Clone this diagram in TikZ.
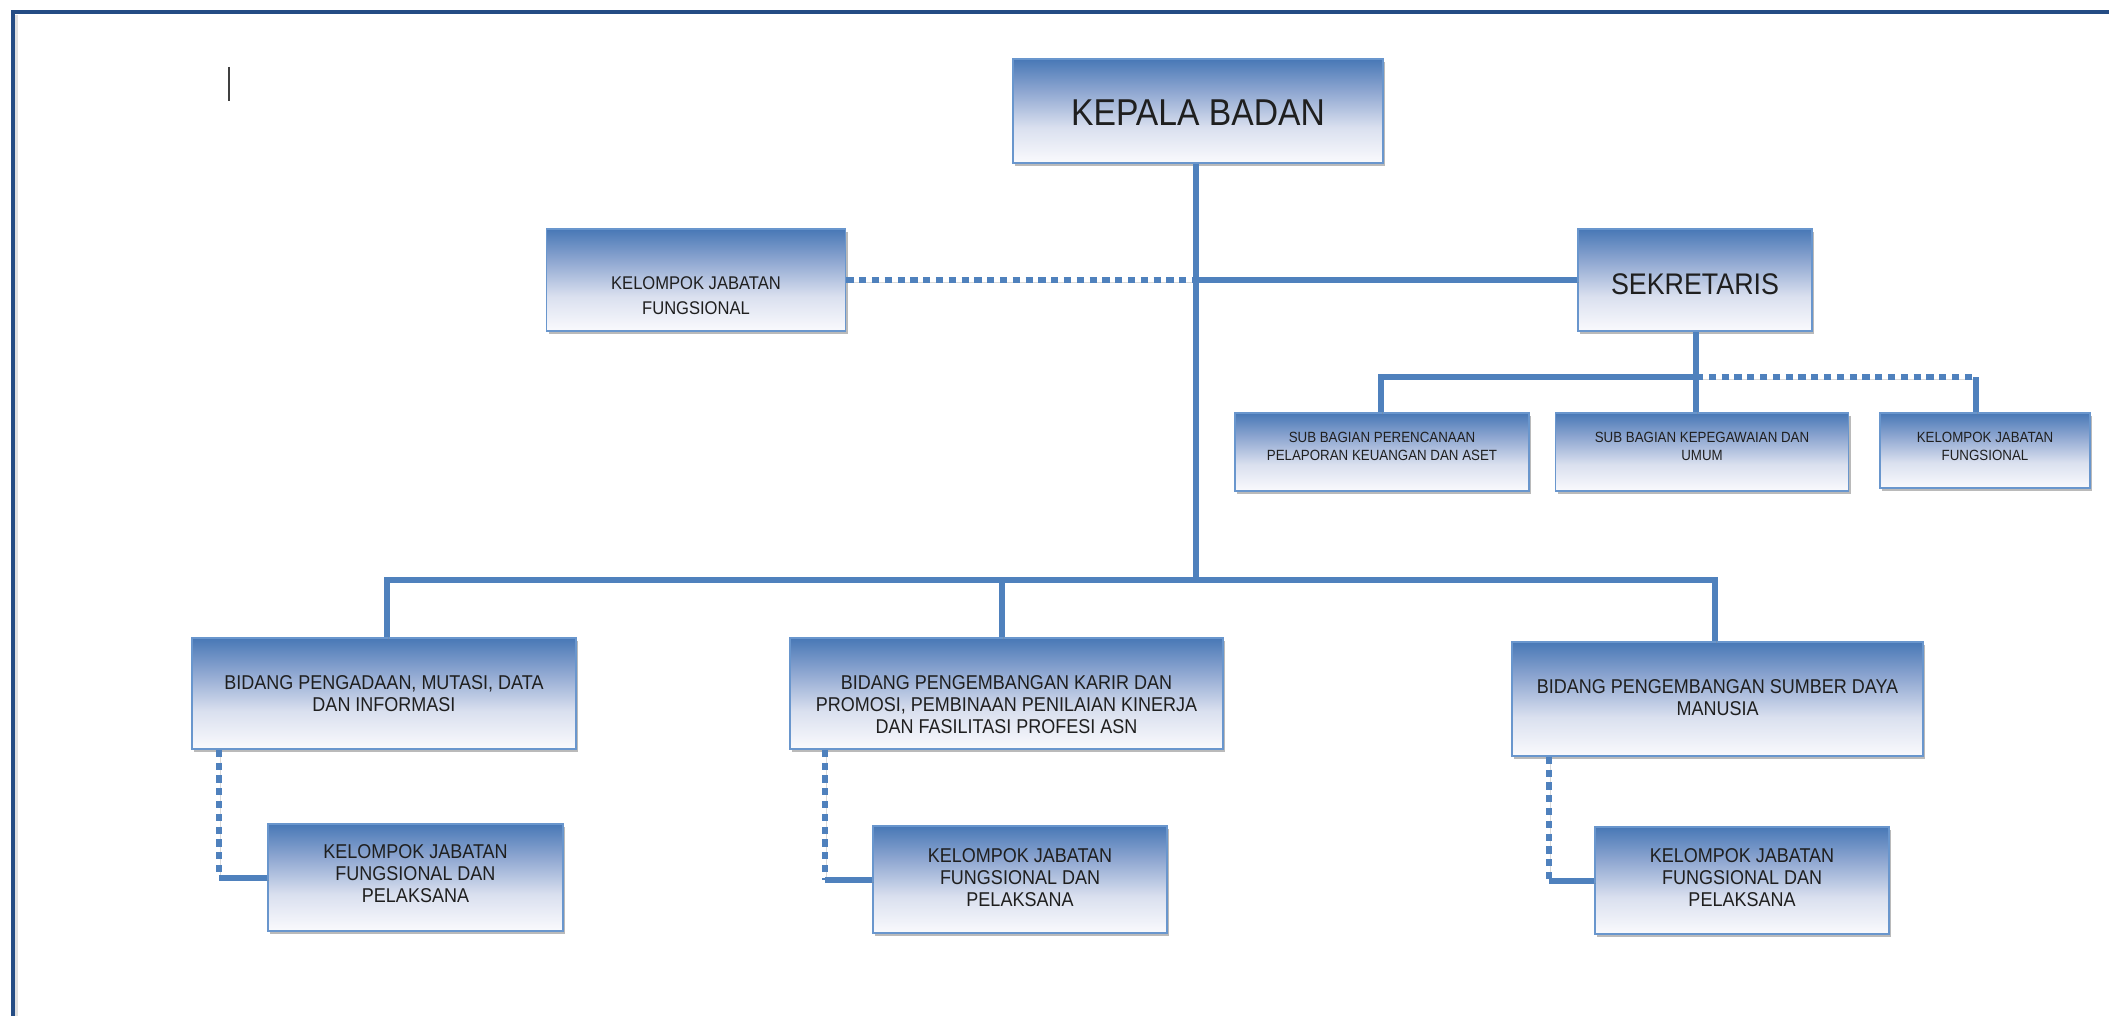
\documentclass[tikz,border=0pt]{standalone}
\usepackage{fontspec}
\newfontfamily\orgfont{Liberation Sans}[FakeStretch=0.9]
\usetikzlibrary{shadows}

\definecolor{frameblue}{RGB}{36,76,132}
\definecolor{linkblue}{RGB}{79,129,189}
\definecolor{boxedge}{RGB}{105,150,205}
\definecolor{gradtop}{RGB}{72,120,182}
\definecolor{gradup}{RGB}{140,165,208}
\definecolor{gradlow}{RGB}{218,224,239}
\definecolor{gradbot}{RGB}{250,250,253}

% blue-to-white fill of the boxes (path spans 25bp..75bp)
\pgfdeclareverticalshading{orgfill}{100bp}{color(0bp)=(gradbot); color(25bp)=(gradbot);
  color(42bp)=(gradlow); color(60bp)=(gradup); color(75bp)=(gradtop); color(100bp)=(gradtop)}

\tikzset{
  orgbox/.style={draw=boxedge, line width=0.8pt, shading=orgfill, inner sep=0pt,
    drop shadow={shadow xshift=1.2pt, shadow yshift=-1.6pt, opacity=.45, fill=black!60}},
  conn/.style={draw=linkblue, line width=3pt,
    preaction={draw=black!50, opacity=.3, transform canvas={xshift=0.8pt, yshift=-1.2pt}}},
  dconn/.style={conn, dash pattern=on 3.6pt off 2.8pt},
  lbl/.style={align=center, inner sep=0pt, text=black!88},
  tbig/.style={lbl, font={\orgfont\fontsize{18.7}{22}\selectfont}},
  tsek/.style={lbl, font={\orgfont\fontsize{14.9}{18}\selectfont}},
  tkjf/.style={lbl, font={\orgfont\fontsize{9.2}{12.5}\selectfont}},
  tmid/.style={lbl, font={\orgfont\fontsize{10}{11}\selectfont}},
  tsmall/.style={lbl, font={\orgfont\fontsize{7.4}{9}\selectfont}},
}

\begin{document}
\begin{tikzpicture}[x=0.5pt, y=-0.5pt]
\useasboundingbox (0,0) rectangle (2109,1016);

% page frame
\draw[gray!25, line width=1.5pt] (16.5,1016) -- (16.5,15);
\draw[frameblue, line width=2pt] (12.5,1016) -- (12.5,12) -- (2109,12);
% text cursor
\draw[black!75, line width=1pt] (228.5,67) -- (228.5,101);

% boxes
\node[orgbox, minimum width=185pt, minimum height=52pt] (kb) at (1198,111) {};
\node[orgbox, minimum width=149.5pt, minimum height=51pt] (kjfl) at (696,280) {};
\node[orgbox, minimum width=117pt, minimum height=51pt] (sek) at (1695,280) {};
\node[orgbox, minimum width=147pt, minimum height=39pt] (sbp) at (1382,452) {};
\node[orgbox, minimum width=146.5pt, minimum height=39pt] (sbk) at (1702,452) {};
\node[orgbox, minimum width=105pt, minimum height=37.5pt] (kjfr) at (1985,450.5) {};
\node[orgbox, minimum width=192pt, minimum height=55.5pt] (b1) at (384,693.5) {};
\node[orgbox, minimum width=216.5pt, minimum height=55.5pt] (b2) at (1006.5,693.5) {};
\node[orgbox, minimum width=205.5pt, minimum height=57pt] (b3) at (1717.5,699) {};
\node[orgbox, minimum width=147.5pt, minimum height=53.5pt] (l1) at (415.5,877.5) {};
\node[orgbox, minimum width=147pt, minimum height=53.5pt] (l2) at (1020,879.5) {};
\node[orgbox, minimum width=147pt, minimum height=53.5pt] (l3) at (1742,880.5) {};

% labels
\node[tbig] (kb-t) at (1198,113) {KEPALA BADAN};
\node[tkjf] (kjfl-t) at (696,296) {KELOMPOK JABATAN\\FUNGSIONAL};
\node[tsek] (sek-t) at (1695,284) {SEKRETARIS};
\node[tsmall] (sbp-t) at (1382,446) {SUB BAGIAN PERENCANAAN\\PELAPORAN KEUANGAN DAN ASET};
\node[tsmall] (sbk-t) at (1702,446) {SUB BAGIAN KEPEGAWAIAN DAN\\UMUM};
\node[tsmall] (kjfr-t) at (1985,446) {KELOMPOK JABATAN\\FUNGSIONAL};
\node[tmid] (b1-t) at (384,694) {BIDANG PENGADAAN, MUTASI, DATA\\DAN INFORMASI};
\node[tmid] (b2-t) at (1006.5,705) {BIDANG PENGEMBANGAN KARIR DAN\\PROMOSI, PEMBINAAN PENILAIAN KINERJA\\DAN FASILITASI PROFESI ASN};
\node[tmid] (b3-t) at (1717.5,698) {BIDANG PENGEMBANGAN SUMBER DAYA\\MANUSIA};
\node[tmid] (l1-t) at (415.5,874) {KELOMPOK JABATAN\\FUNGSIONAL DAN\\PELAKSANA};
\node[tmid] (l2-t) at (1020,877.5) {KELOMPOK JABATAN\\FUNGSIONAL DAN\\PELAKSANA};
\node[tmid] (l3-t) at (1742,877.5) {KELOMPOK JABATAN\\FUNGSIONAL DAN\\PELAKSANA};

% junction points
\coordinate (bbar) at (1196,580);
\coordinate (bx1) at (387,580);
\coordinate (bx2) at (1002,580);
\coordinate (bx3) at (1715,580);
\coordinate (sbar) at (1696,377);
\coordinate (sx1) at (1381,377);
\coordinate (sx3) at (1976,377);
\coordinate (d1) at (219,877.5);
\coordinate (d2) at (825,879.5);
\coordinate (d3) at (1549,880.5);

% head to the three fields
\draw[conn] (kb.south -| bbar) -- (bbar);
\draw[conn] (bx1 |- b1.north) -- (bx1) -- (bx3) -- (bx3 |- b3.north);
\draw[conn] (bx2 |- b2.north) -- (bx2);
% functional group and secretary
\draw[dconn] (kjfl.east) -- (kjfl.east -| bbar);
\draw[conn] (bbar |- sek.west) -- (sek.west);
% secretary to sub-sections
\draw[conn] (sbar |- sek.south) -- (sbar |- sbk.north);
\draw[conn] (sx1 |- sbp.north) -- (sx1) -- (sbar);
\draw[dconn] (sbar) -- (sx3);
\draw[conn] (sx3) -- (sx3 |- kjfr.north);
% fields to their functional groups
\draw[dconn] (d1 |- b1.south) -- (d1);
\draw[conn] (d1) -- (l1.west);
\draw[dconn] (d2 |- b2.south) -- (d2);
\draw[conn] (d2) -- (l2.west);
\draw[dconn] (d3 |- b3.south) -- (d3);
\draw[conn] (d3) -- (l3.west);
\end{tikzpicture}
\end{document}
